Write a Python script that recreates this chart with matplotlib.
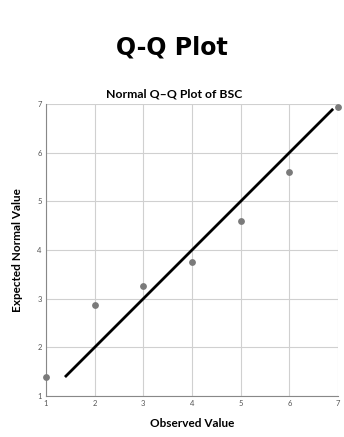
import matplotlib
matplotlib.use("Agg")
import matplotlib.pyplot as plt

observed = [1, 2, 3, 4, 5, 6, 7]
expected = [1.39, 2.87, 3.26, 3.75, 4.6, 5.6, 6.93]
line_x = [1.39, 6.9]
line_y = [1.39, 6.9]
ticks = [1, 2, 3, 4, 5, 6, 7]

plt.rcParams['font.family'] = ['Lato', 'DejaVu Sans']
fig = plt.figure(figsize=(3.44, 4.37), dpi=100)
ax = fig.add_axes([0.1337, 0.0938, 0.8489, 0.6682])

fig.text(0.5, 0.892, "Q-Q Plot", ha='center', va='center', fontsize=17,
         fontweight='bold', family=['DejaVu Sans'])
fig.text(0.506, 0.786, "Normal Q\u2013Q Plot of BSC", ha='center', va='center',
         fontsize=8.8, fontweight='bold')

ax.grid(True, color='#d0d0d0', linewidth=0.8)
ax.set_axisbelow(True)
ax.plot(line_x, line_y, color='black', linewidth=2, zorder=2, solid_capstyle='butt')
ax.scatter(observed, expected, s=15, color='#7a7a7a', zorder=3, clip_on=False)

ax.set_xlim(1, 7)
ax.set_ylim(1, 7)
ax.set_xticks(ticks)
ax.set_yticks(ticks)
ax.tick_params(labelsize=5.5, length=0, pad=3, colors='#555555')
for s in ['top', 'right']:
    ax.spines[s].set_visible(False)
for s in ['left', 'bottom']:
    ax.spines[s].set_color('#888888')
    ax.spines[s].set_linewidth(0.8)

ax.set_xlabel("Observed Value", fontsize=8.5, fontweight='bold', labelpad=8)
ax.set_ylabel("Expected Normal Value", fontsize=8.5, fontweight='bold', labelpad=10)

fig.savefig("out.png", dpi=100)
